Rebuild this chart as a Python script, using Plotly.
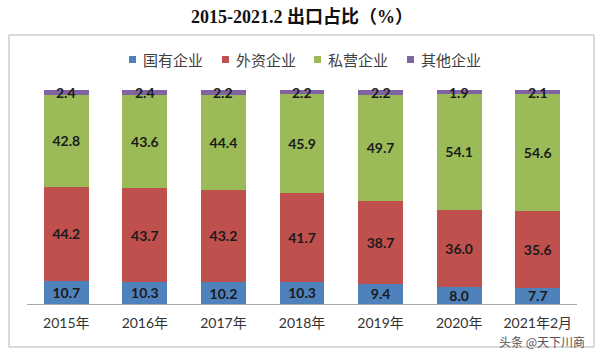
import plotly.graph_objects as go

categories = ["2015年", "2016年", "2017年", "2018年", "2019年", "2020年", "2021年2月"]
series_names = ["国有企业", "外资企业", "私营企业", "其他企业"]
state_owned = [10.7, 10.3, 10.2, 10.3, 9.4, 8.0, 7.7]
foreign = [44.2, 43.7, 43.2, 41.7, 38.7, 36.0, 35.6]
private = [42.8, 43.6, 44.4, 45.9, 49.7, 54.1, 54.6]
other = [2.4, 2.4, 2.2, 2.2, 2.2, 1.9, 2.1]
title_text = "2015-2021.2 出口占比（%）"
watermark = "头条 @天下川商"

colors = ["#4F81BD", "#C0504D", "#9BBB59", "#8064A2"]
values = [state_owned, foreign, private, other]

W, H = 600, 351
L, R, T, B = 27, 23, 90, 47
plot_w = W - L - R
plot_h = H - T - B


def px_x(px):
    return (px - L) / plot_w


def px_y(py):
    return (H - B - py) / plot_h


label_font = dict(family="Lato, Liberation Sans, sans-serif", size=14,
                  color="#1a1a1a", weight="bold")

fig = go.Figure()
for i, (name, vals, col) in enumerate(zip(series_names, values, colors)):
    is_last = i == len(values) - 1
    fig.add_trace(go.Bar(
        x=categories, y=vals, name=name,
        marker=dict(color=col, line=dict(width=0)),
        text=None if is_last else [f"{v:.1f}" for v in vals],
        textposition="none" if is_last else "inside",
        insidetextanchor="middle",
        textangle=0,
        insidetextfont=label_font,
        showlegend=False,
    ))

annotations = []
# labels of the thin top segment, centred on the segment through data coords
for j, cat in enumerate(categories):
    base = state_owned[j] + foreign[j] + private[j]
    annotations.append(dict(x=cat, y=base + other[j] / 2, xref="x", yref="y",
                            text=f"{other[j]:.1f}", showarrow=False,
                            xanchor="center", yanchor="middle", font=label_font))

shapes = []
# outer border box
shapes.append(dict(type="rect", xref="paper", yref="paper",
                   x0=px_x(9), x1=px_x(594), y0=px_y(347), y1=px_y(35),
                   line=dict(color="#B5B5B5", width=1), fillcolor="rgba(0,0,0,0)",
                   layer="below"))
# manual legend
leg_x = [129, 222, 314, 407]
for x0, name, col in zip(leg_x, series_names, colors):
    shapes.append(dict(type="rect", xref="paper", yref="paper",
                       x0=px_x(x0), x1=px_x(x0 + 7), y0=px_y(63), y1=px_y(56),
                       line=dict(width=0), fillcolor=col))
    annotations.append(dict(text=name, xref="paper", yref="paper",
                            x=px_x(x0 + 12), y=px_y(59.5), xanchor="left", yanchor="middle",
                            showarrow=False,
                            font=dict(family="Noto Sans CJK SC, sans-serif", size=15, color="#404040")))

annotations.append(dict(text=watermark, xref="paper", yref="paper",
                        x=px_x(542), y=px_y(341), xanchor="center", yanchor="middle",
                        showarrow=False,
                        font=dict(family="Noto Sans CJK SC, sans-serif", size=12, color="#555555")))

fig.update_layout(
    width=W, height=H,
    barmode="stack",
    bargap=0.43,
    margin=dict(l=L, r=R, t=T, b=B),
    paper_bgcolor="white", plot_bgcolor="white",
    title=dict(text=title_text, x=0.5, xanchor="center", xref="paper",
               y=1 - 17 / H, yref="container", yanchor="middle",
               font=dict(family="Liberation Serif, Noto Sans CJK SC, serif", size=18,
                         color="#111111", weight="bold")),
    xaxis=dict(showline=True, linecolor="#A8A8A8", linewidth=1, ticks="",
               ticklabelstandoff=6, showgrid=False, zeroline=False,
               tickfont=dict(family="Lato, Noto Sans CJK SC, sans-serif", size=14, color="#333333")),
    yaxis=dict(visible=False, range=[0, 100], fixedrange=True),
    uniformtext=dict(minsize=14, mode="show"),
    shapes=shapes,
    annotations=annotations,
    showlegend=False,
)

fig.write_html("out.html")
